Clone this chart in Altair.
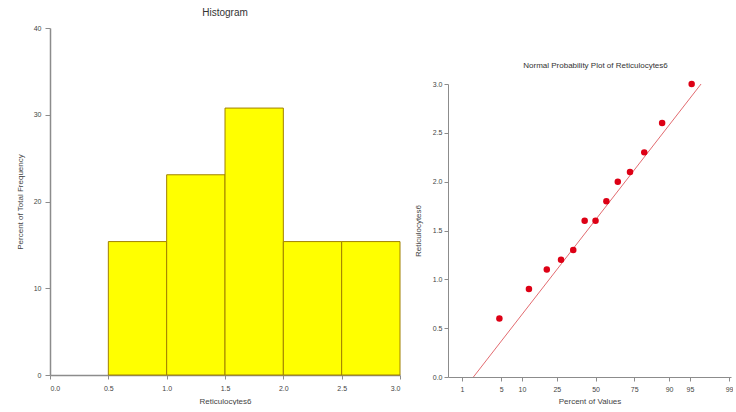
import altair as alt
import pandas as pd
from statistics import NormalDist

# ---------------- data ----------------
# Histogram
bin_start = [0.5, 1.0, 1.5, 2.0, 2.5]
bin_end = [1.0, 1.5, 2.0, 2.5, 3.0]
pct_freq = [15.38, 23.08, 30.77, 15.38, 15.38]

# Normal probability plot
pp_percent = [4.7, 12.3, 19.8, 27.4, 34.9, 42.5, 50.0, 57.5, 65.1, 72.6, 80.2, 87.7, 95.3]
pp_values = [0.6, 0.9, 1.1, 1.2, 1.3, 1.6, 1.6, 1.8, 2.0, 2.1, 2.3, 2.6, 3.0]

fit_percent = [1.67, 96.7]
fit_values = [0.0, 3.0]

pct_ticks = [1, 5, 10, 25, 50, 75, 90, 95, 99]
hist_xticks = [0.0, 0.5, 1.0, 1.5, 2.0, 2.5, 3.0]
hist_yticks = [0, 10, 20, 30, 40]
pp_yticks = [0.0, 0.5, 1.0, 1.5, 2.0, 2.5, 3.0]

FONT = "Liberation Sans"
AX = "#8c8c8c"
LAB = "#444444"

hist_df = pd.DataFrame({"start": bin_start, "end": bin_end, "pct": pct_freq})
pts_df = pd.DataFrame({"p": pp_percent, "v": pp_values})
fit_df = pd.DataFrame({"p": fit_percent, "v": fit_values})

z_ticks = [NormalDist().inv_cdf(p / 100.0) for p in pct_ticks]

# ---------------- histogram ----------------
hist = alt.Chart(hist_df).mark_bar(
    fill="#FFFF00", stroke="#A08000", strokeWidth=1
).encode(
    x=alt.X("start:Q",
            scale=alt.Scale(domain=[0, 3], nice=False),
            axis=alt.Axis(values=hist_xticks, format=".1f", title="Reticulocytes6",
                          tickSize=4, labelPadding=5, titlePadding=6,
                          domainWidth=1.5)),
    x2="end:Q",
    y=alt.Y("pct:Q",
            scale=alt.Scale(domain=[0, 40], nice=False),
            axis=alt.Axis(values=hist_yticks, title="Percent of Total Frequency",
                          tickSize=5, labelPadding=4, titlePadding=9,
                          domainWidth=1.5)),
    y2=alt.datum(0),
).properties(
    width=350, height=347,
    title=alt.TitleParams("Histogram", fontSize=10, fontWeight="normal",
                          font=FONT, color="#333333", offset=6, frame="group")
)

# ---------------- normal probability plot ----------------
xenc = alt.X("z:Q",
             scale=alt.Scale(domain=[-2.57, 2.36], nice=False, zero=False),
             axis=alt.Axis(values=z_ticks,
                           labelExpr="format(cumulativeNormal(datum.value)*100, '.0f')",
                           title="Percent of Values", tickSize=4, labelPadding=4,
                           titlePadding=5, labelOverlap=False))
yenc = alt.Y("v:Q",
             scale=alt.Scale(domain=[0, 3], nice=False),
             axis=alt.Axis(values=pp_yticks, format=".1f", title="Reticulocytes6",
                           tickSize=4, labelPadding=2, titlePadding=10))

fit_line = alt.Chart(fit_df).transform_calculate(
    z="quantileNormal(datum.p / 100)"
).mark_line(color="#E26B70", strokeWidth=1).encode(x=xenc, y=yenc)

pts = alt.Chart(pts_df).transform_calculate(
    z="quantileNormal(datum.p / 100)"
).mark_circle(color="#DD0015", size=42, opacity=1).encode(x=xenc, y=yenc)

npp = alt.layer(fit_line, pts).properties(
    width=283, height=293,
    title=alt.TitleParams("Normal Probability Plot of Reticulocytes6", fontSize=8,
                          fontWeight="normal", font=FONT, color="#333333",
                          offset=10, frame="group", dx=6)
)

spacer = alt.Chart(pd.DataFrame({"a": [0]})).mark_point(opacity=0, size=1).encode(
    x=alt.value(0), y=alt.value(0)
).properties(width=10, height=34)

right = alt.vconcat(spacer, npp, spacing=0)

chart = alt.hconcat(hist, right, spacing=13).properties(
    padding={"left": 16, "top": 8, "right": 0, "bottom": 0},
    background="white"
).configure_view(stroke=None).configure_axis(
    grid=False, domainColor=AX, tickColor=AX, labelColor=LAB, titleColor=LAB,
    labelFont=FONT, titleFont=FONT, labelFontSize=7, titleFontSize=8,
    titleFontWeight="normal"
)

chart.save("out.html", embed_options={"renderer": "svg", "actions": False})
